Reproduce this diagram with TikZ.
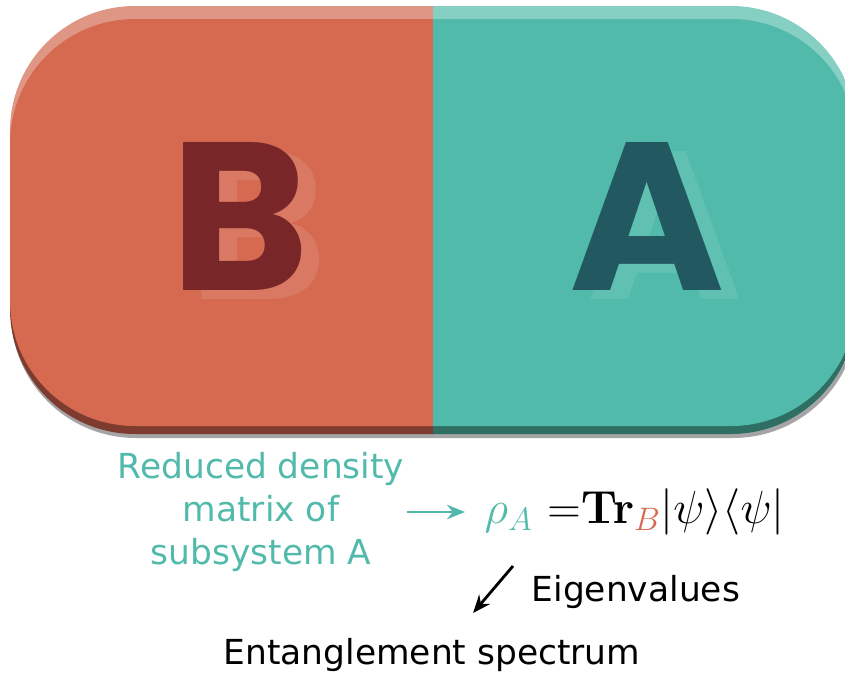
\RequirePackage{fix-cm}
\documentclass[tikz,border=0pt]{standalone}
\usepackage{amsmath}
\usepackage[no-math]{fontspec}
\setmainfont{DejaVu Sans}
\newfontfamily\letterfont{Poppins}
\usetikzlibrary{arrows.meta, positioning}
\definecolor{bmain}{RGB}{214,106,80}
\definecolor{amain}{RGB}{81,186,171}
\definecolor{blight}{RGB}{224,150,132}
\definecolor{alight}{RGB}{134,207,195}
\definecolor{bdeep}{RGB}{125,60,47}
\definecolor{adeep}{RGB}{46,110,99}
\definecolor{bletter}{RGB}{120,38,40}
\definecolor{aletter}{RGB}{34,88,96}
\definecolor{bshade}{RGB}{218,121,99}
\definecolor{ashade}{RGB}{96,192,178}
\definecolor{dropgrey}{RGB}{165,165,165}

\begin{document}
\begin{tikzpicture}[x=0.25mm, y=-0.25mm,
    letter/.style={inner sep=0pt, font=\letterfont\bfseries\fontsize{150}{150}\selectfont},
    desc/.style={inner sep=1pt, align=center, text=amain, font=\fontsize{24.5}{30.5}\selectfont},
    plain/.style={inner sep=1pt, font=\fontsize{24.5}{30}\selectfont},
    formula/.style={inner sep=1pt, font=\fontsize{33}{36}\selectfont},
    arrow/.style={-{Stealth[length=4.5mm, width=3.6mm]}, line width=0.7mm}
]
\clip (0,0) rectangle (845,673);

% drop shadow
\fill[dropgrey, rounded corners=31.25mm] (11,12) rectangle (858,438);

% dark bottom, light top, main face
\foreach \ytop/\ybot/\lcol/\rcol in {19/434/bdeep/adeep, 6/413/blight/alight, 19/426/bmain/amain}{
  \begin{scope}
    \clip[rounded corners=31.25mm] (10,\ytop) rectangle (856,\ybot);
    \fill[\lcol] (0,0) rectangle (433,450);
    \fill[\rcol] (433,0) rectangle (870,450);
  \end{scope}
}

% letters
\node[letter, text=bshade] (Bshade) at (258,225) {B};
\node[letter, text=bletter] (B) at (240,216) {B};
\node[letter, text=ashade] (Ashade) at (665,225) {A};
\node[letter, text=aletter] (A) at (647,216) {A};

% reduced density matrix
\node[desc] (rdm) at (261,512) {Reduced density\\matrix of\\subsystem A};
\node[formula, anchor=west] (rho) at (483,512) {$\textcolor{amain}{\rho_A}\ {=}\mathbf{Tr}_{\textcolor{bmain}{B}}|\psi\rangle\langle\psi|$};
\draw[arrow, amain, shorten >=4.5mm, shorten <=0.3mm] (rdm.east |- rho.west) -- (rho.west);

% eigenvalues
\coordinate (eigtop) at (513,566);
\coordinate (eigend) at (473,613);
\draw[arrow, black] (eigtop) -- (eigend);
\node[plain, anchor=west] (eig) at (530,592) {Eigenvalues};
\node[plain] (spec) at (432,655) {Entanglement spectrum};

\end{tikzpicture}
\end{document}
